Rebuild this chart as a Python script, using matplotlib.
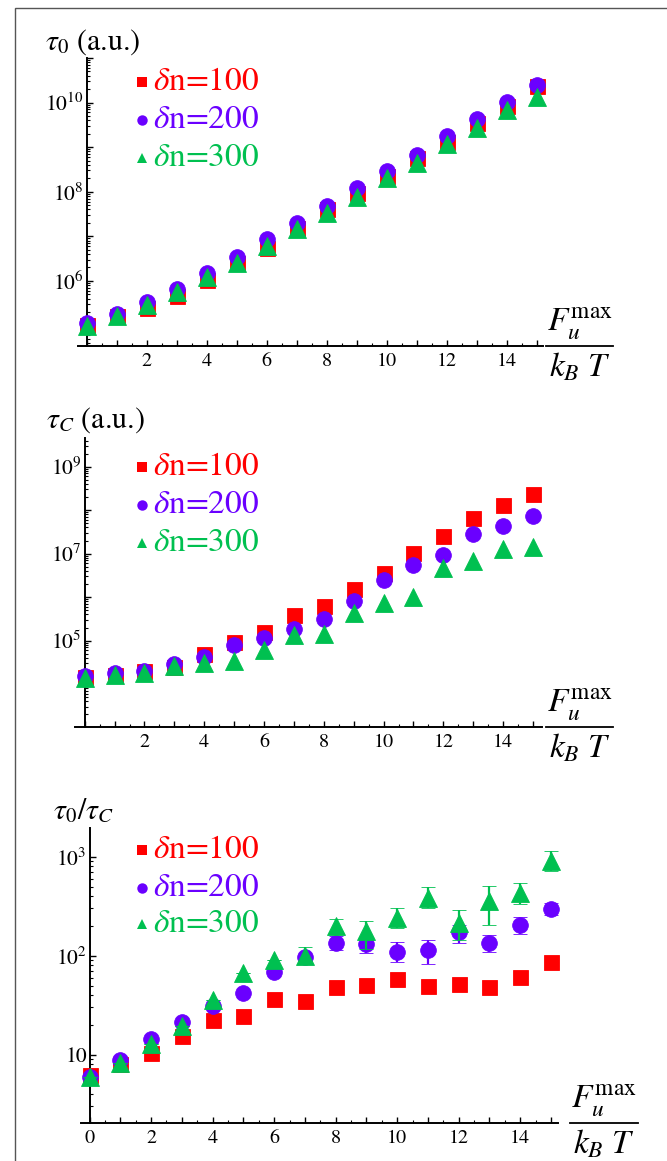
import matplotlib
matplotlib.use("Agg")
import matplotlib.pyplot as plt
from matplotlib.lines import Line2D
from matplotlib.patches import Rectangle

plt.rcParams["font.family"] = "STIXGeneral"
plt.rcParams["mathtext.fontset"] = "stix"

W, H = 667, 1161

force = list(range(16))

# panel 1: tau_0 (a.u.)
tau0_dn100 = [1.0e5, 1.6e5, 2.5e5, 4.5e5, 1.05e6, 2.5e6, 5.5e6, 1.55e7,
              4.0e7, 9.5e7, 2.3e8, 5.8e8, 1.3e9, 3.5e9, 8.5e9, 2.3e10]
tau0_dn200 = [1.15e5, 1.8e5, 3.4e5, 6.6e5, 1.5e6, 3.5e6, 8.7e6, 2.0e7,
              4.9e7, 1.23e8, 2.95e8, 6.8e8, 1.74e9, 4.2e9, 1.05e10, 2.5e10]
tau0_dn300 = [9.8e4, 1.6e5, 2.9e5, 5.5e5, 1.23e6, 2.5e6, 6.2e6, 1.48e7,
              3.4e7, 7.8e7, 2.0e8, 4.5e8, 1.15e9, 2.75e9, 6.9e9, 1.35e10]

# panel 2: tau_C (a.u.)
tauc_dn100 = [1.45e4, 1.6e4, 1.95e4, 2.5e4, 4.9e4, 9.1e4, 1.55e5, 3.9e5,
              6.3e5, 1.5e6, 3.5e6, 1.05e7, 2.6e7, 6.5e7, 1.3e8, 2.35e8]
tauc_dn200 = [1.5e4, 1.8e4, 2.05e4, 2.9e4, 4.3e4, 7.8e4, 1.15e5, 1.85e5,
              3.1e5, 8.3e5, 2.5e6, 5.5e6, 9.3e6, 2.8e7, 4.4e7, 7.4e7]
tauc_dn300 = [1.4e4, 1.6e4, 1.8e4, 2.6e4, 3.0e4, 3.4e4, 6.2e4, 1.35e5,
              1.4e5, 4.3e5, 7.4e5, 1.0e6, 4.6e6, 6.6e6, 1.26e7, 1.4e7]

# panel 3: tau_0 / tau_C with error bounds
ratio_dn100 = [6.2, 8.1, 10.4, 15.6, 22.2, 24.7, 36.5, 34.5,
               48, 51, 58, 49, 52, 48, 61, 86]
ratio_dn200 = [6.0, 8.8, 14.4, 21.2, 31, 42, 68, 97,
               135, 132, 110, 115, 172, 135, 205, 295]
ratio_dn200_lo = [6.0, 8.8, 14.4, 21.2, 31, 42, 68, 90,
                  115, 107, 86, 83, 135, 110, 165, 260]
ratio_dn200_hi = [6.0, 8.8, 14.4, 21.2, 31, 42, 68, 105,
                  158, 156, 136, 145, 205, 163, 246, 340]
ratio_dn300 = [5.95, 8.3, 12.9, 19.6, 36, 67, 90, 100,
               200, 176, 240, 382, 214, 355, 430, 895]
ratio_dn300_lo = [5.95, 8.3, 12.9, 19.6, 36, 67, 90, 88,
                  172, 118, 190, 302, 145, 206, 335, 710]
ratio_dn300_hi = [5.95, 8.3, 12.9, 19.6, 36, 67, 90, 123,
                  234, 222, 302, 490, 292, 510, 540, 1150]

labels = [r"$\delta$n=100", r"$\delta$n=200", r"$\delta$n=300"]
colors = ["#ff0000", "#6a00ff", "#00c050"]
markers = ["s", "o", "^"]
msizes = [10.8, 11.3, 12.3]

fig = plt.figure(figsize=(W / 100, H / 100), dpi=100)
fig.add_artist(Rectangle((15 / W, -0.01), 1.0, 1 - 8 / H + 0.01,
                         transform=fig.transFigure, fill=False,
                         edgecolor="#555555", lw=1.0))


def fx(x):
    return x / W


def fy(y):
    return 1 - y / H


def make_panel(box, xlim, ylim, decades, labelled, xlabel_zero, series,
               title, title_xy, legend_rows, frac_x, errs=None):
    l, t, r, b = box
    ax = fig.add_axes([fx(l), fy(b), fx(r - l), (b - t) / H])
    ax.set_yscale("log")
    ax.set_xlim(*xlim)
    ax.set_ylim(*ylim)
    for side in ("top", "right"):
        ax.spines[side].set_visible(False)
    ax.spines["left"].set_position(("data", 0))
    for side in ("left", "bottom"):
        ax.spines[side].set_linewidth(1.4)

    ax.set_xticks(force)
    ax.set_xticklabels([str(v) if v % 2 == 0 and (v > 0 or xlabel_zero) else ""
                        for v in force])
    ax.set_xticks([v + 0.5 for v in force[:-1]], minor=True)
    ax.set_yticks(decades)
    ax.set_yticklabels([labelled.get(d, "") for d in decades])
    ax.yaxis.set_minor_locator(matplotlib.ticker.LogLocator(base=10, subs=range(2, 10), numticks=30))
    ax.yaxis.set_minor_formatter(matplotlib.ticker.NullFormatter())
    ax.tick_params(axis="both", which="major", direction="in", length=4, width=1.0)
    ax.tick_params(axis="both", which="minor", direction="in", length=2.2, width=0.8)
    ax.tick_params(axis="x", pad=5, labelsize=14.5)
    ax.tick_params(axis="y", pad=2, labelsize=15.5)

    for i, ys in enumerate(series):
        if errs is not None and errs[i] is not None:
            lo, hi = errs[i]
            yerr = [[v - a for v, a in zip(ys, lo)], [c - v for v, c in zip(ys, hi)]]
            ax.errorbar(force, ys, yerr=yerr, fmt=markers[i], color=colors[i],
                        ms=msizes[i], mec=colors[i], mew=0.6, elinewidth=1.6,
                        capsize=5, capthick=1.6, clip_on=False, zorder=3 + i)
        else:
            ax.plot(force, ys, markers[i], color=colors[i], ms=msizes[i],
                    mec=colors[i], mew=0.6, clip_on=False, zorder=3 + i)

    fig.text(fx(title_xy[0]), fy(title_xy[1]), title, fontsize=21.5,
             ha="left", va="center")

    mx, tx = 142, 153
    for i, row_y in enumerate(legend_rows):
        fig.add_artist(Line2D([fx(mx)], [fy(row_y)], marker=markers[i],
                              color=colors[i], ms=7.5 if i else 7, mew=0,
                              ls="none", transform=fig.transFigure))
        fig.text(fx(tx), fy(row_y), labels[i], color=colors[i], fontsize=24,
                 ha="left", va="center")

    x0, x1 = frac_x
    fig.add_artist(Line2D([fx(x0), fx(x1)], [fy(b), fy(b)], color="black",
                          lw=1.3, transform=fig.transFigure))
    cx = (x0 + x1) / 2
    fig.text(fx(cx), fy(b - 4), r"$F_u^{\mathrm{max}}$", fontsize=24,
             ha="center", va="bottom")
    fig.text(fx(cx), fy(b + 5), r"$k_B\ T$", fontsize=24,
             ha="center", va="top")
    return ax


make_panel((78, 58, 543, 346), (-0.29, 15.2), (10 ** 4.54, 10 ** 11.0),
           [10.0 ** k for k in range(5, 12)],
           {1e6: r"$10^{6}$", 1e8: r"$10^{8}$", 1e10: r"$10^{10}$"},
           False, [tau0_dn100, tau0_dn200, tau0_dn300],
           r"$\tau_0$ (a.u.)", (45, 42), [82, 120, 158], (546, 613))

make_panel((74.5, 438, 542, 726.7), (-0.34, 15.3), (10 ** 3.02, 10 ** 9.66),
           [10.0 ** k for k in range(4, 10)],
           {1e5: r"$10^{5}$", 1e7: r"$10^{7}$", 1e9: r"$10^{9}$"},
           False, [tauc_dn100, tauc_dn200, tauc_dn300],
           r"$\tau_C$ (a.u.)", (46, 420), [467, 505, 543], (546, 613))

make_panel((81, 828, 558, 1123), (-0.28, 15.23), (10 ** 0.31, 10 ** 3.29),
           [10.0, 100.0, 1000.0],
           {10.0: "10", 100.0: r"$10^{2}$", 1000.0: r"$10^{3}$"},
           True, [ratio_dn100, ratio_dn200, ratio_dn300],
           r"$\tau_0/\tau_C$", (53, 812), [850, 888, 924], (570, 638),
           errs=[None, (ratio_dn200_lo, ratio_dn200_hi),
                 (ratio_dn300_lo, ratio_dn300_hi)])

fig.savefig("out.png", dpi=100)
